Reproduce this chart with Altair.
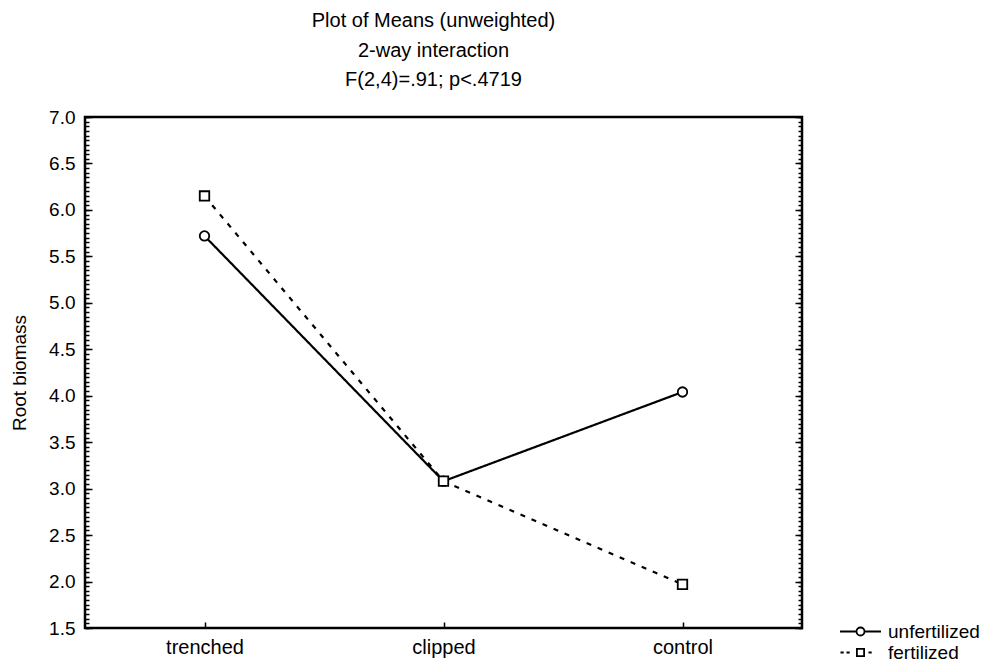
import altair as alt
import numpy as np
import pandas as pd

categories = ["trenched", "clipped", "control"]
groups = ["unfertilized", "fertilized"]
unfertilized = [5.72, 3.08, 4.04]
fertilized = [6.15, 3.08, 1.97]

major_ticks = [1.5, 2.0, 2.5, 3.0, 3.5, 4.0, 4.5, 5.0, 5.5, 6.0, 6.5, 7.0]
minor_ticks = [round(v, 2) for v in np.arange(1.5, 7.0001, 0.05)]

rows = []
for i, c in enumerate(categories):
    rows.append({"treatment": c, "group": "unfertilized", "biomass": unfertilized[i]})
    rows.append({"treatment": c, "group": "fertilized", "biomass": fertilized[i]})
df = pd.DataFrame(rows)

W, H = 717, 511
FONT = "Liberation Sans"

xscale = alt.Scale(domain=categories, padding=0.5)
yscale = alt.Scale(domain=[1.5, 7.0], nice=False, zero=False)

base = alt.Chart(df)

def xenc(axis):
    return alt.X("treatment:N", sort=categories, scale=xscale, axis=axis, title=None)

def yenc(axis):
    return alt.Y("biomass:Q", scale=yscale, axis=axis)

lines = base.mark_line(color="black", strokeWidth=2.2).encode(
    x=xenc(alt.Axis(orient="bottom", labelAngle=0, labelFontSize=20, labelColor="black",
                    labelPadding=9, tickSize=0, domain=False, labelFont=FONT)),
    y=yenc(alt.Axis(orient="left", values=major_ticks, format=".1f", labelFontSize=19,
                    labelColor="black", labelPadding=10, tickSize=0, domain=False, grid=False,
                    title="Root biomass", titleFontSize=19, titleFontWeight="normal",
                    titleColor="black", titleX=-56, titleY=H / 2, labelFont=FONT,
                    titleFont=FONT)),
    strokeDash=alt.StrokeDash("group:N", scale=alt.Scale(domain=groups, range=[[1, 0], [5, 7]]),
                              legend=None),
)

points = base.mark_point(filled=True, fill="white", stroke="black", strokeWidth=1.8,
                         size=90, opacity=1).encode(
    x=xenc(None),
    y=yenc(None),
    shape=alt.Shape("group:N", scale=alt.Scale(domain=groups, range=["circle", "square"]),
                    legend=None),
)

def tick_layer(xaxis, yaxis):
    return base.mark_point(opacity=0).encode(x=xenc(xaxis), y=yenc(yaxis))

tick_common = dict(labels=False, domain=False, grid=False, title=None, tickColor="black",
                   tickWidth=1.5)

ax1 = tick_layer(
    alt.Axis(orient="top", offset=-H, tickSize=6, **tick_common),
    alt.Axis(orient="right", offset=-W, values=major_ticks, tickSize=7, **tick_common),
)
ax2 = tick_layer(None, alt.Axis(orient="right", offset=-W, values=minor_ticks, tickSize=4,
                                **tick_common))
ax3 = tick_layer(None, alt.Axis(orient="left", offset=-W, values=major_ticks, tickSize=7,
                                **tick_common))
ax4 = tick_layer(None, alt.Axis(orient="left", offset=-W, values=minor_ticks, tickSize=4,
                                **tick_common))

# legend glyphs in units of 8 px (symbolSize 256)
legend_paths = [
    "M-2.56,0L-0.5,0M0.5,0L2.56,0M-0.5,0A0.5,0.5,0,1,0,0.5,0A0.5,0.5,0,1,0,-0.5,0Z",
    "M-2.5,0L-2.1,0M-1.75,0L-1.35,0M-0.45,-0.45L0.45,-0.45L0.45,0.45L-0.45,0.45Z"
    "M1.0,0L1.4,0",
]
legend_layer = base.transform_filter("false").mark_point(color="black", filled=False).encode(
    shape=alt.Shape("group:N", scale=alt.Scale(domain=groups, range=legend_paths),
                    legend=alt.Legend(title=None, orient="none", legendX=766, legendY=505,
                                      symbolSize=256, symbolStrokeColor="black",
                                      symbolStrokeWidth=1.8, symbolFillColor="white",
                                      symbolOpacity=1, labelFontSize=19, labelColor="black",
                                      labelFont=FONT, labelOffset=18, rowPadding=1)),
)

chart = alt.layer(lines, points, ax1, ax2, ax3, ax4, legend_layer).resolve_axis(
    x="independent", y="independent"
).resolve_scale(shape="independent").properties(
    width=W,
    height=H,
    padding={"left": 85, "top": 117, "right": 995 - 85 - W, "bottom": 663 - 117 - H},
    autosize=alt.AutoSizeParams(type="none"),
    title=alt.TitleParams(
        text=["Plot of Means (unweighted)", "2-way interaction", "F(2,4)=.91; p<.4719"],
        fontSize=20, fontWeight="normal", font=FONT, color="black", lineHeight=29.5,
        anchor="middle", offset=18, dx=-10,
    ),
).configure(font=FONT, background="white").configure_view(stroke="black", strokeWidth=2.5)

chart.save("out.html", embed_options={"renderer": "svg", "actions": False})
